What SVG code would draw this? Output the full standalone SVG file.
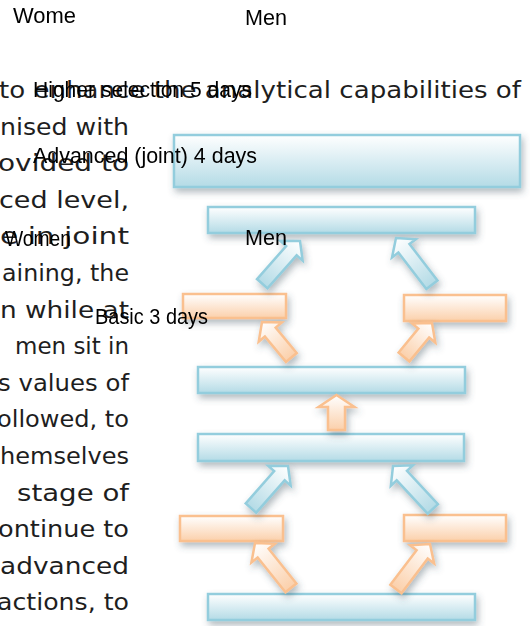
<svg xmlns="http://www.w3.org/2000/svg" width="530" height="626" viewBox="0 0 530 626">
<style>
.body{font-family:"DejaVu Sans",sans-serif;font-size:23px;fill:#1e1e1e}
.lbl{font-family:"Liberation Sans",Arial,sans-serif;font-size:21.5px;fill:#000}
.bb{fill:url(#gb);stroke:#93cddd;stroke-width:2.5}
.ob{fill:url(#go);stroke:#fac08f;stroke-width:2.5}
.ba{fill:url(#gba);stroke:#93cddd;stroke-width:2.5;stroke-linejoin:miter}
.oa{fill:url(#goa);stroke:#fac08f;stroke-width:2.5;stroke-linejoin:miter}
</style>
<defs>
<linearGradient id="gb" x1="0" y1="0" x2="0" y2="1"><stop offset="0" stop-color="#ffffff"/><stop offset="1" stop-color="#b4dbe6"/></linearGradient>
<linearGradient id="go" x1="0" y1="0" x2="0" y2="1"><stop offset="0" stop-color="#ffffff"/><stop offset="1" stop-color="#fbd0ab"/></linearGradient>
<linearGradient id="gba" x1="0" y1="0" x2="0" y2="1"><stop offset="0" stop-color="#ffffff"/><stop offset="1" stop-color="#b4dbe6"/></linearGradient>
<linearGradient id="goa" x1="0" y1="0" x2="0" y2="1"><stop offset="0" stop-color="#ffffff"/><stop offset="1" stop-color="#fbd0ab"/></linearGradient>
<filter id="sh" x="-10%" y="-40%" width="125%" height="200%"><feDropShadow dx="2" dy="4" stdDeviation="3.5" flood-color="#3d5260" flood-opacity="0.4"/></filter>
</defs>

<g id="paragraph">
<text class="body" x="-1" y="98" textLength="522" lengthAdjust="spacingAndGlyphs">to enhance the analytical capabilities of</text>
<text class="body" x="0" y="134.6" textLength="129" lengthAdjust="spacingAndGlyphs">nised with</text>
<text class="body" x="-2" y="171.2" textLength="131" lengthAdjust="spacingAndGlyphs">ovided to</text>
<text class="body" x="-1" y="207.8" textLength="130" lengthAdjust="spacingAndGlyphs">ced level,</text>
<text class="body" x="0" y="244.4" textLength="129" lengthAdjust="spacingAndGlyphs">e in joint</text>
<text class="body" x="2" y="281" textLength="127" lengthAdjust="spacingAndGlyphs">aining, the</text>
<text class="body" x="0" y="317.6" textLength="129" lengthAdjust="spacingAndGlyphs">n while at</text>
<text class="body" x="15" y="354.2" textLength="114" lengthAdjust="spacingAndGlyphs">men sit in</text>
<text class="body" x="-2" y="390.8" textLength="131" lengthAdjust="spacingAndGlyphs">s values of</text>
<text class="body" x="-3" y="427.4" textLength="132" lengthAdjust="spacingAndGlyphs">ollowed, to</text>
<text class="body" x="0" y="464" textLength="129" lengthAdjust="spacingAndGlyphs">hemselves</text>
<text class="body" x="17" y="500.6" textLength="112" lengthAdjust="spacingAndGlyphs">stage of</text>
<text class="body" x="-2" y="537.2" textLength="131" lengthAdjust="spacingAndGlyphs">ontinue to</text>
<text class="body" x="0" y="573.8" textLength="129" lengthAdjust="spacingAndGlyphs">advanced</text>
<text class="body" x="-3" y="610.4" textLength="132" lengthAdjust="spacingAndGlyphs">actions, to</text>
</g>

<g id="higher-selection"><rect class="bb" x="174" y="135" width="346" height="52" filter="url(#sh)"/></g>
<g id="advanced-joint"><rect class="bb" x="208" y="207" width="267" height="26" filter="url(#sh)"/></g>
<g id="advanced-women"><rect class="ob" x="183" y="294" width="103" height="24" filter="url(#sh)"/></g>
<g id="advanced-men"><rect class="ob" x="404" y="295" width="102" height="26" filter="url(#sh)"/></g>
<g id="basic-joint"><rect class="bb" x="198" y="367" width="267" height="26" filter="url(#sh)"/></g>
<g id="basic-mid"><rect class="bb" x="198" y="434" width="266" height="27" filter="url(#sh)"/></g>
<g id="basic-women"><rect class="ob" x="180" y="516" width="103" height="25" filter="url(#sh)"/></g>
<g id="basic-men"><rect class="ob" x="404" y="515" width="102" height="26" filter="url(#sh)"/></g>
<g id="basic-start"><rect class="bb" x="208" y="594" width="267" height="26" filter="url(#sh)"/></g>

<g id="connectors" filter="url(#sh)">
<path class="ba" transform="translate(300,241) rotate(41.5)" d="M0,0 L15,13 L7,13 L7,57 L-7,57 L-7,13 L-15,13 Z"/>
<path class="ba" transform="translate(396,238) rotate(-37.5)" d="M0,0 L15,13 L7,13 L7,59 L-7,59 L-7,13 L-15,13 Z"/>
<path class="oa" transform="translate(262,322) rotate(-39.6)" d="M0,0 L15,13 L7,13 L7,46 L-7,46 L-7,13 L-15,13 Z"/>
<path class="oa" transform="translate(432,323) rotate(39.5)" d="M0,0 L15,13 L7,13 L7,44 L-7,44 L-7,13 L-15,13 Z"/>
<path class="oa" transform="translate(336.5,395)" d="M0,0 L18,12 L8.5,12 L8.5,35 L-8.5,35 L-8.5,12 L-18,12 Z"/>
<path class="ba" transform="translate(288,466) rotate(41.4)" d="M0,0 L15,13 L7,13 L7,56 L-7,56 L-7,13 L-15,13 Z"/>
<path class="ba" transform="translate(393,466) rotate(-42.9)" d="M0,0 L15,13 L7,13 L7,58.5 L-7,58.5 L-7,13 L-15,13 Z"/>
<path class="oa" transform="translate(255,543) rotate(-38.7)" d="M0,0 L15,13 L7,13 L7,57.5 L-7,57.5 L-7,13 L-15,13 Z"/>
<path class="oa" transform="translate(430,544) rotate(37.1)" d="M0,0 L15,13 L7,13 L7,56.5 L-7,56.5 L-7,13 L-15,13 Z"/>
</g>

<g id="labels">
<text class="lbl" x="13" y="23" textLength="63" lengthAdjust="spacingAndGlyphs">Wome</text>
<text class="lbl" x="245" y="25" textLength="42" lengthAdjust="spacingAndGlyphs">Men</text>
<text class="lbl" x="33" y="97" textLength="219" lengthAdjust="spacingAndGlyphs">Higher selection 5 days</text>
<text class="lbl" x="33" y="163" textLength="224" lengthAdjust="spacingAndGlyphs">Advanced (joint) 4 days</text>
<text class="lbl" x="5" y="246" textLength="66" lengthAdjust="spacingAndGlyphs">Women</text>
<text class="lbl" x="245" y="245" textLength="42" lengthAdjust="spacingAndGlyphs">Men</text>
<text class="lbl" x="95" y="324" textLength="113" lengthAdjust="spacingAndGlyphs">Basic 3 days</text>
</g>
</svg>
